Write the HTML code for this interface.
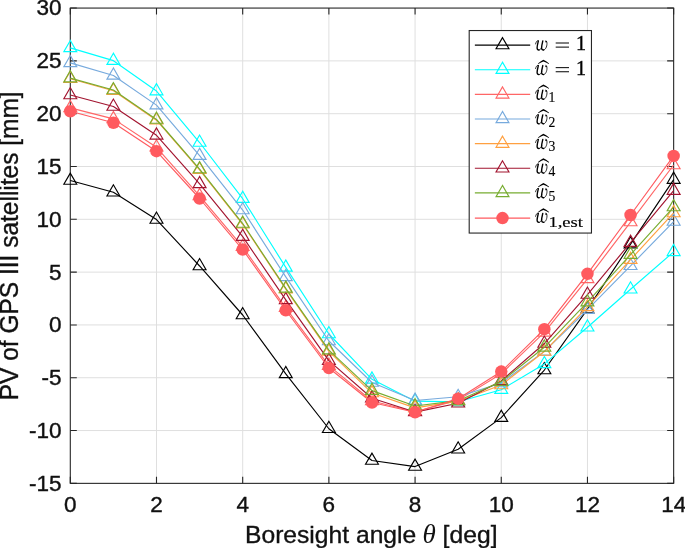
<!DOCTYPE html><html><head><meta charset="utf-8"><title>chart</title><style>html,body{margin:0;padding:0;background:#fff}svg{display:block;will-change:transform}</style></head><body>
<svg width="685" height="548" viewBox="0 0 685 548" font-family="'Liberation Sans', sans-serif">
<rect width="685" height="548" fill="#fff"/>
<path d="M156.49 8.07V483.36M242.69 8.07V483.36M328.88 8.07V483.36M415.07 8.07V483.36M501.26 8.07V483.36M587.46 8.07V483.36M70.3 430.55H673.65M70.3 377.74H673.65M70.3 324.93H673.65M70.3 272.12H673.65M70.3 219.31H673.65M70.3 166.50H673.65M70.3 113.69H673.65M70.3 60.88H673.65" stroke="#dfdfdf" stroke-width="1" fill="none"/>
<path d="M70.30 483.36v-6.5M70.30 8.07v6.5M156.49 483.36v-6.5M156.49 8.07v6.5M242.69 483.36v-6.5M242.69 8.07v6.5M328.88 483.36v-6.5M328.88 8.07v6.5M415.07 483.36v-6.5M415.07 8.07v6.5M501.26 483.36v-6.5M501.26 8.07v6.5M587.46 483.36v-6.5M587.46 8.07v6.5M673.65 483.36v-6.5M673.65 8.07v6.5M70.3 483.36h6.5M673.65 483.36h-6.5M70.3 430.55h6.5M673.65 430.55h-6.5M70.3 377.74h6.5M673.65 377.74h-6.5M70.3 324.93h6.5M673.65 324.93h-6.5M70.3 272.12h6.5M673.65 272.12h-6.5M70.3 219.31h6.5M673.65 219.31h-6.5M70.3 166.50h6.5M673.65 166.50h-6.5M70.3 113.69h6.5M673.65 113.69h-6.5M70.3 60.88h6.5M673.65 60.88h-6.5M70.3 8.07h6.5M673.65 8.07h-6.5" stroke="#262626" stroke-width="1.1" fill="none"/>
<rect x="70.3" y="8.07" width="603.35" height="475.29" fill="none" stroke="#262626" stroke-width="1.1"/>
<polyline points="70.30,180.55 113.40,192.27 156.49,219.52 199.59,265.99 242.69,315.00 285.78,373.94 328.88,428.75 371.98,460.55 415.07,466.57 458.17,449.24 501.26,417.66 544.36,370.03 587.46,309.09 630.55,244.13 673.65,179.60" fill="none" stroke="#000000" stroke-width="1.15" stroke-linejoin="round"/>
<path d="M70.30 173.10L63.85 184.27L76.75 184.27Z" fill="none" stroke="#000000" stroke-width="1.15" stroke-linejoin="miter"/>
<path d="M113.40 184.82L106.95 196.00L119.85 196.00Z" fill="none" stroke="#000000" stroke-width="1.15" stroke-linejoin="miter"/>
<path d="M156.49 212.07L150.04 223.25L162.94 223.25Z" fill="none" stroke="#000000" stroke-width="1.15" stroke-linejoin="miter"/>
<path d="M199.59 258.55L193.14 269.72L206.04 269.72Z" fill="none" stroke="#000000" stroke-width="1.15" stroke-linejoin="miter"/>
<path d="M242.69 307.55L236.24 318.73L249.14 318.73Z" fill="none" stroke="#000000" stroke-width="1.15" stroke-linejoin="miter"/>
<path d="M285.78 366.49L279.33 377.66L292.23 377.66Z" fill="none" stroke="#000000" stroke-width="1.15" stroke-linejoin="miter"/>
<path d="M328.88 421.31L322.43 432.48L335.33 432.48Z" fill="none" stroke="#000000" stroke-width="1.15" stroke-linejoin="miter"/>
<path d="M371.98 453.10L365.53 464.27L378.43 464.27Z" fill="none" stroke="#000000" stroke-width="1.15" stroke-linejoin="miter"/>
<path d="M415.07 459.12L408.62 470.29L421.52 470.29Z" fill="none" stroke="#000000" stroke-width="1.15" stroke-linejoin="miter"/>
<path d="M458.17 441.80L451.72 452.97L464.62 452.97Z" fill="none" stroke="#000000" stroke-width="1.15" stroke-linejoin="miter"/>
<path d="M501.26 410.22L494.81 421.39L507.71 421.39Z" fill="none" stroke="#000000" stroke-width="1.15" stroke-linejoin="miter"/>
<path d="M544.36 362.58L537.91 373.75L550.81 373.75Z" fill="none" stroke="#000000" stroke-width="1.15" stroke-linejoin="miter"/>
<path d="M587.46 301.64L581.01 312.81L593.91 312.81Z" fill="none" stroke="#000000" stroke-width="1.15" stroke-linejoin="miter"/>
<path d="M630.55 236.68L624.10 247.85L637.00 247.85Z" fill="none" stroke="#000000" stroke-width="1.15" stroke-linejoin="miter"/>
<path d="M673.65 172.15L667.20 183.32L680.10 183.32Z" fill="none" stroke="#000000" stroke-width="1.15" stroke-linejoin="miter"/>
<polyline points="70.30,47.89 113.40,60.67 156.49,91.09 199.59,142.52 242.69,198.71 285.78,267.37 328.88,334.01 371.98,379.32 415.07,401.19 458.17,401.82 501.26,389.68 544.36,363.90 587.46,327.25 630.55,289.23 673.65,251.84" fill="none" stroke="#00FFFF" stroke-width="1.15" stroke-linejoin="round"/>
<path d="M70.30 40.44L63.85 51.61L76.75 51.61Z" fill="none" stroke="#00FFFF" stroke-width="1.15" stroke-linejoin="miter"/>
<path d="M113.40 53.22L106.95 64.39L119.85 64.39Z" fill="none" stroke="#00FFFF" stroke-width="1.15" stroke-linejoin="miter"/>
<path d="M156.49 83.64L150.04 94.81L162.94 94.81Z" fill="none" stroke="#00FFFF" stroke-width="1.15" stroke-linejoin="miter"/>
<path d="M199.59 135.08L193.14 146.25L206.04 146.25Z" fill="none" stroke="#00FFFF" stroke-width="1.15" stroke-linejoin="miter"/>
<path d="M242.69 191.27L236.24 202.44L249.14 202.44Z" fill="none" stroke="#00FFFF" stroke-width="1.15" stroke-linejoin="miter"/>
<path d="M285.78 259.92L279.33 271.09L292.23 271.09Z" fill="none" stroke="#00FFFF" stroke-width="1.15" stroke-linejoin="miter"/>
<path d="M328.88 326.57L322.43 337.74L335.33 337.74Z" fill="none" stroke="#00FFFF" stroke-width="1.15" stroke-linejoin="miter"/>
<path d="M371.98 371.88L365.53 383.05L378.43 383.05Z" fill="none" stroke="#00FFFF" stroke-width="1.15" stroke-linejoin="miter"/>
<path d="M415.07 393.74L408.62 404.91L421.52 404.91Z" fill="none" stroke="#00FFFF" stroke-width="1.15" stroke-linejoin="miter"/>
<path d="M458.17 394.37L451.72 405.55L464.62 405.55Z" fill="none" stroke="#00FFFF" stroke-width="1.15" stroke-linejoin="miter"/>
<path d="M501.26 382.23L494.81 393.40L507.71 393.40Z" fill="none" stroke="#00FFFF" stroke-width="1.15" stroke-linejoin="miter"/>
<path d="M544.36 356.46L537.91 367.63L550.81 367.63Z" fill="none" stroke="#00FFFF" stroke-width="1.15" stroke-linejoin="miter"/>
<path d="M587.46 319.81L581.01 330.98L593.91 330.98Z" fill="none" stroke="#00FFFF" stroke-width="1.15" stroke-linejoin="miter"/>
<path d="M630.55 281.78L624.10 292.95L637.00 292.95Z" fill="none" stroke="#00FFFF" stroke-width="1.15" stroke-linejoin="miter"/>
<path d="M673.65 244.39L667.20 255.56L680.10 255.56Z" fill="none" stroke="#00FFFF" stroke-width="1.15" stroke-linejoin="miter"/>
<polyline points="70.30,107.88 113.40,118.87 156.49,147.28 199.59,195.86 242.69,246.77 285.78,307.82 328.88,365.59 371.98,400.98 415.07,411.75 458.17,400.13 501.26,373.73 544.36,332.43 587.46,278.88 630.55,222.06 673.65,165.02" fill="none" stroke="#FF6666" stroke-width="1.15" stroke-linejoin="round"/>
<path d="M70.30 100.43L63.85 111.60L76.75 111.60Z" fill="none" stroke="#FF6666" stroke-width="1.15" stroke-linejoin="miter"/>
<path d="M113.40 111.42L106.95 122.59L119.85 122.59Z" fill="none" stroke="#FF6666" stroke-width="1.15" stroke-linejoin="miter"/>
<path d="M156.49 139.83L150.04 151.00L162.94 151.00Z" fill="none" stroke="#FF6666" stroke-width="1.15" stroke-linejoin="miter"/>
<path d="M199.59 188.41L193.14 199.59L206.04 199.59Z" fill="none" stroke="#FF6666" stroke-width="1.15" stroke-linejoin="miter"/>
<path d="M242.69 239.32L236.24 250.50L249.14 250.50Z" fill="none" stroke="#FF6666" stroke-width="1.15" stroke-linejoin="miter"/>
<path d="M285.78 300.37L279.33 311.54L292.23 311.54Z" fill="none" stroke="#FF6666" stroke-width="1.15" stroke-linejoin="miter"/>
<path d="M328.88 358.15L322.43 369.32L335.33 369.32Z" fill="none" stroke="#FF6666" stroke-width="1.15" stroke-linejoin="miter"/>
<path d="M371.98 393.53L365.53 404.70L378.43 404.70Z" fill="none" stroke="#FF6666" stroke-width="1.15" stroke-linejoin="miter"/>
<path d="M415.07 404.30L408.62 415.47L421.52 415.47Z" fill="none" stroke="#FF6666" stroke-width="1.15" stroke-linejoin="miter"/>
<path d="M458.17 392.68L451.72 403.86L464.62 403.86Z" fill="none" stroke="#FF6666" stroke-width="1.15" stroke-linejoin="miter"/>
<path d="M501.26 366.28L494.81 377.45L507.71 377.45Z" fill="none" stroke="#FF6666" stroke-width="1.15" stroke-linejoin="miter"/>
<path d="M544.36 324.98L537.91 336.15L550.81 336.15Z" fill="none" stroke="#FF6666" stroke-width="1.15" stroke-linejoin="miter"/>
<path d="M587.46 271.43L581.01 282.60L593.91 282.60Z" fill="none" stroke="#FF6666" stroke-width="1.15" stroke-linejoin="miter"/>
<path d="M630.55 214.61L624.10 225.78L637.00 225.78Z" fill="none" stroke="#FF6666" stroke-width="1.15" stroke-linejoin="miter"/>
<path d="M673.65 157.57L667.20 168.75L680.10 168.75Z" fill="none" stroke="#FF6666" stroke-width="1.15" stroke-linejoin="miter"/>
<polyline points="70.30,62.89 113.40,75.46 156.49,105.13 199.59,155.62 242.69,210.02 285.78,276.87 328.88,340.98 371.98,382.49 415.07,400.55 458.17,396.75 501.26,383.02 544.36,351.34 587.46,309.72 630.55,265.78 673.65,221.53" fill="none" stroke="#77AADD" stroke-width="1.15" stroke-linejoin="round"/>
<path d="M70.30 55.44L63.85 66.61L76.75 66.61Z" fill="none" stroke="#77AADD" stroke-width="1.15" stroke-linejoin="miter"/>
<path d="M113.40 68.01L106.95 79.18L119.85 79.18Z" fill="none" stroke="#77AADD" stroke-width="1.15" stroke-linejoin="miter"/>
<path d="M156.49 97.69L150.04 108.86L162.94 108.86Z" fill="none" stroke="#77AADD" stroke-width="1.15" stroke-linejoin="miter"/>
<path d="M199.59 148.17L193.14 159.35L206.04 159.35Z" fill="none" stroke="#77AADD" stroke-width="1.15" stroke-linejoin="miter"/>
<path d="M242.69 202.57L236.24 213.74L249.14 213.74Z" fill="none" stroke="#77AADD" stroke-width="1.15" stroke-linejoin="miter"/>
<path d="M285.78 269.43L279.33 280.60L292.23 280.60Z" fill="none" stroke="#77AADD" stroke-width="1.15" stroke-linejoin="miter"/>
<path d="M328.88 333.54L322.43 344.71L335.33 344.71Z" fill="none" stroke="#77AADD" stroke-width="1.15" stroke-linejoin="miter"/>
<path d="M371.98 375.05L365.53 386.22L378.43 386.22Z" fill="none" stroke="#77AADD" stroke-width="1.15" stroke-linejoin="miter"/>
<path d="M415.07 393.11L408.62 404.28L421.52 404.28Z" fill="none" stroke="#77AADD" stroke-width="1.15" stroke-linejoin="miter"/>
<path d="M458.17 389.30L451.72 400.48L464.62 400.48Z" fill="none" stroke="#77AADD" stroke-width="1.15" stroke-linejoin="miter"/>
<path d="M501.26 375.57L494.81 386.74L507.71 386.74Z" fill="none" stroke="#77AADD" stroke-width="1.15" stroke-linejoin="miter"/>
<path d="M544.36 343.89L537.91 355.06L550.81 355.06Z" fill="none" stroke="#77AADD" stroke-width="1.15" stroke-linejoin="miter"/>
<path d="M587.46 302.27L581.01 313.44L593.91 313.44Z" fill="none" stroke="#77AADD" stroke-width="1.15" stroke-linejoin="miter"/>
<path d="M630.55 258.33L624.10 269.51L637.00 269.51Z" fill="none" stroke="#77AADD" stroke-width="1.15" stroke-linejoin="miter"/>
<path d="M673.65 214.08L667.20 225.25L680.10 225.25Z" fill="none" stroke="#77AADD" stroke-width="1.15" stroke-linejoin="miter"/>
<polyline points="70.30,78.73 113.40,90.77 156.49,120.24 199.59,169.77 242.69,224.27 285.78,289.12 328.88,351.34 371.98,393.05 415.07,407.84 458.17,401.19 501.26,385.03 544.36,351.55 587.46,306.87 630.55,259.66 673.65,212.97" fill="none" stroke="#FFA040" stroke-width="1.15" stroke-linejoin="round"/>
<path d="M70.30 71.28L63.85 82.45L76.75 82.45Z" fill="none" stroke="#FFA040" stroke-width="1.15" stroke-linejoin="miter"/>
<path d="M113.40 83.32L106.95 94.49L119.85 94.49Z" fill="none" stroke="#FFA040" stroke-width="1.15" stroke-linejoin="miter"/>
<path d="M156.49 112.79L150.04 123.96L162.94 123.96Z" fill="none" stroke="#FFA040" stroke-width="1.15" stroke-linejoin="miter"/>
<path d="M199.59 162.33L193.14 173.50L206.04 173.50Z" fill="none" stroke="#FFA040" stroke-width="1.15" stroke-linejoin="miter"/>
<path d="M242.69 216.83L236.24 228.00L249.14 228.00Z" fill="none" stroke="#FFA040" stroke-width="1.15" stroke-linejoin="miter"/>
<path d="M285.78 281.68L279.33 292.85L292.23 292.85Z" fill="none" stroke="#FFA040" stroke-width="1.15" stroke-linejoin="miter"/>
<path d="M328.88 343.89L322.43 355.06L335.33 355.06Z" fill="none" stroke="#FFA040" stroke-width="1.15" stroke-linejoin="miter"/>
<path d="M371.98 385.61L365.53 396.78L378.43 396.78Z" fill="none" stroke="#FFA040" stroke-width="1.15" stroke-linejoin="miter"/>
<path d="M415.07 400.39L408.62 411.57L421.52 411.57Z" fill="none" stroke="#FFA040" stroke-width="1.15" stroke-linejoin="miter"/>
<path d="M458.17 393.74L451.72 404.91L464.62 404.91Z" fill="none" stroke="#FFA040" stroke-width="1.15" stroke-linejoin="miter"/>
<path d="M501.26 377.58L494.81 388.75L507.71 388.75Z" fill="none" stroke="#FFA040" stroke-width="1.15" stroke-linejoin="miter"/>
<path d="M544.36 344.10L537.91 355.27L550.81 355.27Z" fill="none" stroke="#FFA040" stroke-width="1.15" stroke-linejoin="miter"/>
<path d="M587.46 299.42L581.01 310.59L593.91 310.59Z" fill="none" stroke="#FFA040" stroke-width="1.15" stroke-linejoin="miter"/>
<path d="M630.55 252.21L624.10 263.38L637.00 263.38Z" fill="none" stroke="#FFA040" stroke-width="1.15" stroke-linejoin="miter"/>
<path d="M673.65 205.52L667.20 216.70L680.10 216.70Z" fill="none" stroke="#FFA040" stroke-width="1.15" stroke-linejoin="miter"/>
<polyline points="70.30,95.00 113.40,106.51 156.49,135.34 199.59,183.93 242.69,236.63 285.78,299.90 328.88,360.63 371.98,398.23 415.07,412.07 458.17,403.30 501.26,380.91 544.36,343.52 587.46,294.51 630.55,242.65 673.65,190.58" fill="none" stroke="#A2142F" stroke-width="1.15" stroke-linejoin="round"/>
<path d="M70.30 87.55L63.85 98.72L76.75 98.72Z" fill="none" stroke="#A2142F" stroke-width="1.15" stroke-linejoin="miter"/>
<path d="M113.40 99.06L106.95 110.23L119.85 110.23Z" fill="none" stroke="#A2142F" stroke-width="1.15" stroke-linejoin="miter"/>
<path d="M156.49 127.89L150.04 139.07L162.94 139.07Z" fill="none" stroke="#A2142F" stroke-width="1.15" stroke-linejoin="miter"/>
<path d="M199.59 176.48L193.14 187.65L206.04 187.65Z" fill="none" stroke="#A2142F" stroke-width="1.15" stroke-linejoin="miter"/>
<path d="M242.69 229.18L236.24 240.36L249.14 240.36Z" fill="none" stroke="#A2142F" stroke-width="1.15" stroke-linejoin="miter"/>
<path d="M285.78 292.45L279.33 303.62L292.23 303.62Z" fill="none" stroke="#A2142F" stroke-width="1.15" stroke-linejoin="miter"/>
<path d="M328.88 353.18L322.43 364.35L335.33 364.35Z" fill="none" stroke="#A2142F" stroke-width="1.15" stroke-linejoin="miter"/>
<path d="M371.98 390.78L365.53 401.95L378.43 401.95Z" fill="none" stroke="#A2142F" stroke-width="1.15" stroke-linejoin="miter"/>
<path d="M415.07 404.62L408.62 415.79L421.52 415.79Z" fill="none" stroke="#A2142F" stroke-width="1.15" stroke-linejoin="miter"/>
<path d="M458.17 395.85L451.72 407.02L464.62 407.02Z" fill="none" stroke="#A2142F" stroke-width="1.15" stroke-linejoin="miter"/>
<path d="M501.26 373.46L494.81 384.63L507.71 384.63Z" fill="none" stroke="#A2142F" stroke-width="1.15" stroke-linejoin="miter"/>
<path d="M544.36 336.07L537.91 347.24L550.81 347.24Z" fill="none" stroke="#A2142F" stroke-width="1.15" stroke-linejoin="miter"/>
<path d="M587.46 287.06L581.01 298.24L593.91 298.24Z" fill="none" stroke="#A2142F" stroke-width="1.15" stroke-linejoin="miter"/>
<path d="M630.55 235.20L624.10 246.38L637.00 246.38Z" fill="none" stroke="#A2142F" stroke-width="1.15" stroke-linejoin="miter"/>
<path d="M673.65 183.13L667.20 194.31L680.10 194.31Z" fill="none" stroke="#A2142F" stroke-width="1.15" stroke-linejoin="miter"/>
<polyline points="70.30,78.10 113.40,90.03 156.49,119.50 199.59,169.03 242.69,223.53 285.78,288.39 328.88,350.17 371.98,390.63 415.07,406.05 458.17,400.66 501.26,381.65 544.36,347.32 587.46,302.12 630.55,254.59 673.65,207.06" fill="none" stroke="#77AC30" stroke-width="1.15" stroke-linejoin="round"/>
<path d="M70.30 70.65L63.85 81.82L76.75 81.82Z" fill="none" stroke="#77AC30" stroke-width="1.15" stroke-linejoin="miter"/>
<path d="M113.40 82.58L106.95 93.76L119.85 93.76Z" fill="none" stroke="#77AC30" stroke-width="1.15" stroke-linejoin="miter"/>
<path d="M156.49 112.05L150.04 123.22L162.94 123.22Z" fill="none" stroke="#77AC30" stroke-width="1.15" stroke-linejoin="miter"/>
<path d="M199.59 161.59L193.14 172.76L206.04 172.76Z" fill="none" stroke="#77AC30" stroke-width="1.15" stroke-linejoin="miter"/>
<path d="M242.69 216.09L236.24 227.26L249.14 227.26Z" fill="none" stroke="#77AC30" stroke-width="1.15" stroke-linejoin="miter"/>
<path d="M285.78 280.94L279.33 292.11L292.23 292.11Z" fill="none" stroke="#77AC30" stroke-width="1.15" stroke-linejoin="miter"/>
<path d="M328.88 342.73L322.43 353.90L335.33 353.90Z" fill="none" stroke="#77AC30" stroke-width="1.15" stroke-linejoin="miter"/>
<path d="M371.98 383.18L365.53 394.35L378.43 394.35Z" fill="none" stroke="#77AC30" stroke-width="1.15" stroke-linejoin="miter"/>
<path d="M415.07 398.60L408.62 409.77L421.52 409.77Z" fill="none" stroke="#77AC30" stroke-width="1.15" stroke-linejoin="miter"/>
<path d="M458.17 393.21L451.72 404.38L464.62 404.38Z" fill="none" stroke="#77AC30" stroke-width="1.15" stroke-linejoin="miter"/>
<path d="M501.26 374.20L494.81 385.37L507.71 385.37Z" fill="none" stroke="#77AC30" stroke-width="1.15" stroke-linejoin="miter"/>
<path d="M544.36 339.87L537.91 351.05L550.81 351.05Z" fill="none" stroke="#77AC30" stroke-width="1.15" stroke-linejoin="miter"/>
<path d="M587.46 294.67L581.01 305.84L593.91 305.84Z" fill="none" stroke="#77AC30" stroke-width="1.15" stroke-linejoin="miter"/>
<path d="M630.55 247.14L624.10 258.31L637.00 258.31Z" fill="none" stroke="#77AC30" stroke-width="1.15" stroke-linejoin="miter"/>
<path d="M673.65 199.61L667.20 210.78L680.10 210.78Z" fill="none" stroke="#77AC30" stroke-width="1.15" stroke-linejoin="miter"/>
<polyline points="70.30,111.26 113.40,122.77 156.49,151.19 199.59,198.50 242.69,249.52 285.78,310.25 328.88,368.02 371.98,402.56 415.07,412.28 458.17,398.65 501.26,371.61 544.36,329.15 587.46,273.81 630.55,214.98 673.65,155.94" fill="none" stroke="#FF5A5F" stroke-width="1.15" stroke-linejoin="round"/>
<circle cx="70.30" cy="111.26" r="6.25" fill="#FF5A5F"/>
<circle cx="113.40" cy="122.77" r="6.25" fill="#FF5A5F"/>
<circle cx="156.49" cy="151.19" r="6.25" fill="#FF5A5F"/>
<circle cx="199.59" cy="198.50" r="6.25" fill="#FF5A5F"/>
<circle cx="242.69" cy="249.52" r="6.25" fill="#FF5A5F"/>
<circle cx="285.78" cy="310.25" r="6.25" fill="#FF5A5F"/>
<circle cx="328.88" cy="368.02" r="6.25" fill="#FF5A5F"/>
<circle cx="371.98" cy="402.56" r="6.25" fill="#FF5A5F"/>
<circle cx="415.07" cy="412.28" r="6.25" fill="#FF5A5F"/>
<circle cx="458.17" cy="398.65" r="6.25" fill="#FF5A5F"/>
<circle cx="501.26" cy="371.61" r="6.25" fill="#FF5A5F"/>
<circle cx="544.36" cy="329.15" r="6.25" fill="#FF5A5F"/>
<circle cx="587.46" cy="273.81" r="6.25" fill="#FF5A5F"/>
<circle cx="630.55" cy="214.98" r="6.25" fill="#FF5A5F"/>
<circle cx="673.65" cy="155.94" r="6.25" fill="#FF5A5F"/>
<text x="70.30" y="512.2" font-size="22.5" text-anchor="middle" fill="#111" stroke="#111" stroke-width="0.4">0</text>
<text x="156.49" y="512.2" font-size="22.5" text-anchor="middle" fill="#111" stroke="#111" stroke-width="0.4">2</text>
<text x="242.69" y="512.2" font-size="22.5" text-anchor="middle" fill="#111" stroke="#111" stroke-width="0.4">4</text>
<text x="328.88" y="512.2" font-size="22.5" text-anchor="middle" fill="#111" stroke="#111" stroke-width="0.4">6</text>
<text x="415.07" y="512.2" font-size="22.5" text-anchor="middle" fill="#111" stroke="#111" stroke-width="0.4">8</text>
<text x="501.26" y="512.2" font-size="22.5" text-anchor="middle" fill="#111" stroke="#111" stroke-width="0.4">10</text>
<text x="587.46" y="512.2" font-size="22.5" text-anchor="middle" fill="#111" stroke="#111" stroke-width="0.4">12</text>
<text x="673.65" y="512.2" font-size="22.5" text-anchor="middle" fill="#111" stroke="#111" stroke-width="0.4">14</text>
<text x="61.6" y="490.76" font-size="22.5" text-anchor="end" fill="#111" stroke="#111" stroke-width="0.4">-15</text>
<text x="61.6" y="437.95" font-size="22.5" text-anchor="end" fill="#111" stroke="#111" stroke-width="0.4">-10</text>
<text x="61.6" y="385.14" font-size="22.5" text-anchor="end" fill="#111" stroke="#111" stroke-width="0.4">-5</text>
<text x="61.6" y="332.33" font-size="22.5" text-anchor="end" fill="#111" stroke="#111" stroke-width="0.4">0</text>
<text x="61.6" y="279.52" font-size="22.5" text-anchor="end" fill="#111" stroke="#111" stroke-width="0.4">5</text>
<text x="61.6" y="226.71" font-size="22.5" text-anchor="end" fill="#111" stroke="#111" stroke-width="0.4">10</text>
<text x="61.6" y="173.90" font-size="22.5" text-anchor="end" fill="#111" stroke="#111" stroke-width="0.4">15</text>
<text x="61.6" y="121.09" font-size="22.5" text-anchor="end" fill="#111" stroke="#111" stroke-width="0.4">20</text>
<text x="61.6" y="68.28" font-size="22.5" text-anchor="end" fill="#111" stroke="#111" stroke-width="0.4">25</text>
<text x="61.6" y="15.47" font-size="22.5" text-anchor="end" fill="#111" stroke="#111" stroke-width="0.4">30</text>
<text x="245.0" y="542.7" font-size="24.65" fill="#111" stroke="#111" stroke-width="0.35">Boresight angle</text>
<text x="422.6" y="542.7" font-size="27" fill="#111" font-family="'Liberation Serif', serif" font-style="italic">θ</text>
<text x="442.6" y="542.7" font-size="24.7" fill="#111" stroke="#111" stroke-width="0.35">[deg]</text>
<text transform="translate(17.5,245.8) rotate(-90) scale(1,1.03)" font-size="24.5" stroke="#111" stroke-width="0.35" text-anchor="middle" fill="#111">PV of GPS III satellites [mm]</text>
<rect x="469.2" y="30.54" width="122.26" height="202.52" fill="#fff" stroke="#262626" stroke-width="1.1"/>
<path d="M474.86 45.06H530.2" stroke="#000000" stroke-width="1.15" fill="none"/>
<path d="M502.50 37.61L496.05 48.78L508.95 48.78Z" fill="none" stroke="#000000" stroke-width="1.15" stroke-linejoin="miter"/>
<g transform="translate(535.3,49.96) scale(0.95,0.97)" fill="none" stroke="#000" stroke-linecap="round"><path d="M3.2 -9.3C2.7 -7.2 1.9 -4.2 1.9 -2.4C1.9 -0.8 2.7 0 3.9 0M7.9 -9.3C7.4 -7.2 6.6 -4.2 6.6 -2.4C6.6 -0.8 7.5 0 8.8 0" stroke-width="1.45"/><path d="M3.9 0C5.2 0 6.3 -1.3 6.8 -2.9M8.8 0C10.6 0 12.3 -3.2 12.3 -6.6C12.3 -8.2 11.9 -9.1 11.3 -9.4M0.3 -6.2C0.8 -8.2 1.7 -9.5 2.6 -9.5C3 -9.5 3.2 -9.4 3.2 -9.3" stroke-width="0.85"/><circle cx="11.35" cy="-8.6" r="0.9" fill="#000" stroke="none"/></g>
<path d="M555.7 43.01H569M555.7 47.11H569" stroke="#000" stroke-width="1" fill="none"/>
<text x="575.9" y="49.96" font-size="20" font-family="'Liberation Serif', serif" fill="#000" stroke="#000" stroke-width="0.4">1</text>
<path d="M474.86 69.7H530.2" stroke="#00FFFF" stroke-width="1.15" fill="none"/>
<path d="M502.50 62.25L496.05 73.42L508.95 73.42Z" fill="none" stroke="#00FFFF" stroke-width="1.15" stroke-linejoin="miter"/>
<g transform="translate(535.3,74.60) scale(0.95,0.97)" fill="none" stroke="#000" stroke-linecap="round"><path d="M3.2 -9.3C2.7 -7.2 1.9 -4.2 1.9 -2.4C1.9 -0.8 2.7 0 3.9 0M7.9 -9.3C7.4 -7.2 6.6 -4.2 6.6 -2.4C6.6 -0.8 7.5 0 8.8 0" stroke-width="1.45"/><path d="M3.9 0C5.2 0 6.3 -1.3 6.8 -2.9M8.8 0C10.6 0 12.3 -3.2 12.3 -6.6C12.3 -8.2 11.9 -9.1 11.3 -9.4M0.3 -6.2C0.8 -8.2 1.7 -9.5 2.6 -9.5C3 -9.5 3.2 -9.4 3.2 -9.3" stroke-width="0.85"/><circle cx="11.35" cy="-8.6" r="0.9" fill="#000" stroke="none"/></g>
<path d="M538.0 63.50Q541.0 61.00 543.4 59.80Q546.1 61.00 549.1 63.50L548.75 64.10Q545.9 62.30 543.4 61.50Q541.2 62.30 538.35 64.10Z" fill="#000"/>
<path d="M555.7 67.65H569M555.7 71.75H569" stroke="#000" stroke-width="1" fill="none"/>
<text x="575.9" y="74.60" font-size="20" font-family="'Liberation Serif', serif" fill="#000" stroke="#000" stroke-width="0.4">1</text>
<path d="M474.86 94.33H530.2" stroke="#FF6666" stroke-width="1.15" fill="none"/>
<path d="M502.50 86.88L496.05 98.05L508.95 98.05Z" fill="none" stroke="#FF6666" stroke-width="1.15" stroke-linejoin="miter"/>
<g transform="translate(535.3,99.23) scale(0.95,0.97)" fill="none" stroke="#000" stroke-linecap="round"><path d="M3.2 -9.3C2.7 -7.2 1.9 -4.2 1.9 -2.4C1.9 -0.8 2.7 0 3.9 0M7.9 -9.3C7.4 -7.2 6.6 -4.2 6.6 -2.4C6.6 -0.8 7.5 0 8.8 0" stroke-width="1.45"/><path d="M3.9 0C5.2 0 6.3 -1.3 6.8 -2.9M8.8 0C10.6 0 12.3 -3.2 12.3 -6.6C12.3 -8.2 11.9 -9.1 11.3 -9.4M0.3 -6.2C0.8 -8.2 1.7 -9.5 2.6 -9.5C3 -9.5 3.2 -9.4 3.2 -9.3" stroke-width="0.85"/><circle cx="11.35" cy="-8.6" r="0.9" fill="#000" stroke="none"/></g>
<path d="M538.0 88.13Q541.0 85.63 543.4 84.43Q546.1 85.63 549.1 88.13L548.75 88.73Q545.9 86.93 543.4 86.13Q541.2 86.93 538.35 88.73Z" fill="#000"/>
<text x="548.4" y="102.13" font-size="13.6" font-family="'Liberation Serif', serif" fill="#000" stroke="#000" stroke-width="0.15">1</text>
<path d="M474.86 118.97H530.2" stroke="#77AADD" stroke-width="1.15" fill="none"/>
<path d="M502.50 111.52L496.05 122.69L508.95 122.69Z" fill="none" stroke="#77AADD" stroke-width="1.15" stroke-linejoin="miter"/>
<g transform="translate(535.3,123.87) scale(0.95,0.97)" fill="none" stroke="#000" stroke-linecap="round"><path d="M3.2 -9.3C2.7 -7.2 1.9 -4.2 1.9 -2.4C1.9 -0.8 2.7 0 3.9 0M7.9 -9.3C7.4 -7.2 6.6 -4.2 6.6 -2.4C6.6 -0.8 7.5 0 8.8 0" stroke-width="1.45"/><path d="M3.9 0C5.2 0 6.3 -1.3 6.8 -2.9M8.8 0C10.6 0 12.3 -3.2 12.3 -6.6C12.3 -8.2 11.9 -9.1 11.3 -9.4M0.3 -6.2C0.8 -8.2 1.7 -9.5 2.6 -9.5C3 -9.5 3.2 -9.4 3.2 -9.3" stroke-width="0.85"/><circle cx="11.35" cy="-8.6" r="0.9" fill="#000" stroke="none"/></g>
<path d="M538.0 112.77Q541.0 110.27 543.4 109.07Q546.1 110.27 549.1 112.77L548.75 113.37Q545.9 111.57 543.4 110.77Q541.2 111.57 538.35 113.37Z" fill="#000"/>
<text x="548.4" y="126.77" font-size="13.6" font-family="'Liberation Serif', serif" fill="#000" stroke="#000" stroke-width="0.15">2</text>
<path d="M474.86 143.61H530.2" stroke="#FFA040" stroke-width="1.15" fill="none"/>
<path d="M502.50 136.16L496.05 147.33L508.95 147.33Z" fill="none" stroke="#FFA040" stroke-width="1.15" stroke-linejoin="miter"/>
<g transform="translate(535.3,148.51) scale(0.95,0.97)" fill="none" stroke="#000" stroke-linecap="round"><path d="M3.2 -9.3C2.7 -7.2 1.9 -4.2 1.9 -2.4C1.9 -0.8 2.7 0 3.9 0M7.9 -9.3C7.4 -7.2 6.6 -4.2 6.6 -2.4C6.6 -0.8 7.5 0 8.8 0" stroke-width="1.45"/><path d="M3.9 0C5.2 0 6.3 -1.3 6.8 -2.9M8.8 0C10.6 0 12.3 -3.2 12.3 -6.6C12.3 -8.2 11.9 -9.1 11.3 -9.4M0.3 -6.2C0.8 -8.2 1.7 -9.5 2.6 -9.5C3 -9.5 3.2 -9.4 3.2 -9.3" stroke-width="0.85"/><circle cx="11.35" cy="-8.6" r="0.9" fill="#000" stroke="none"/></g>
<path d="M538.0 137.41Q541.0 134.91 543.4 133.71Q546.1 134.91 549.1 137.41L548.75 138.01Q545.9 136.21 543.4 135.41Q541.2 136.21 538.35 138.01Z" fill="#000"/>
<text x="548.4" y="151.41" font-size="13.6" font-family="'Liberation Serif', serif" fill="#000" stroke="#000" stroke-width="0.15">3</text>
<path d="M474.86 168.24H530.2" stroke="#A2142F" stroke-width="1.15" fill="none"/>
<path d="M502.50 160.79L496.05 171.96L508.95 171.96Z" fill="none" stroke="#A2142F" stroke-width="1.15" stroke-linejoin="miter"/>
<g transform="translate(535.3,173.14) scale(0.95,0.97)" fill="none" stroke="#000" stroke-linecap="round"><path d="M3.2 -9.3C2.7 -7.2 1.9 -4.2 1.9 -2.4C1.9 -0.8 2.7 0 3.9 0M7.9 -9.3C7.4 -7.2 6.6 -4.2 6.6 -2.4C6.6 -0.8 7.5 0 8.8 0" stroke-width="1.45"/><path d="M3.9 0C5.2 0 6.3 -1.3 6.8 -2.9M8.8 0C10.6 0 12.3 -3.2 12.3 -6.6C12.3 -8.2 11.9 -9.1 11.3 -9.4M0.3 -6.2C0.8 -8.2 1.7 -9.5 2.6 -9.5C3 -9.5 3.2 -9.4 3.2 -9.3" stroke-width="0.85"/><circle cx="11.35" cy="-8.6" r="0.9" fill="#000" stroke="none"/></g>
<path d="M538.0 162.04Q541.0 159.54 543.4 158.34Q546.1 159.54 549.1 162.04L548.75 162.64Q545.9 160.84 543.4 160.04Q541.2 160.84 538.35 162.64Z" fill="#000"/>
<text x="548.4" y="176.04" font-size="13.6" font-family="'Liberation Serif', serif" fill="#000" stroke="#000" stroke-width="0.15">4</text>
<path d="M474.86 192.88H530.2" stroke="#77AC30" stroke-width="1.15" fill="none"/>
<path d="M502.50 185.43L496.05 196.60L508.95 196.60Z" fill="none" stroke="#77AC30" stroke-width="1.15" stroke-linejoin="miter"/>
<g transform="translate(535.3,197.78) scale(0.95,0.97)" fill="none" stroke="#000" stroke-linecap="round"><path d="M3.2 -9.3C2.7 -7.2 1.9 -4.2 1.9 -2.4C1.9 -0.8 2.7 0 3.9 0M7.9 -9.3C7.4 -7.2 6.6 -4.2 6.6 -2.4C6.6 -0.8 7.5 0 8.8 0" stroke-width="1.45"/><path d="M3.9 0C5.2 0 6.3 -1.3 6.8 -2.9M8.8 0C10.6 0 12.3 -3.2 12.3 -6.6C12.3 -8.2 11.9 -9.1 11.3 -9.4M0.3 -6.2C0.8 -8.2 1.7 -9.5 2.6 -9.5C3 -9.5 3.2 -9.4 3.2 -9.3" stroke-width="0.85"/><circle cx="11.35" cy="-8.6" r="0.9" fill="#000" stroke="none"/></g>
<path d="M538.0 186.68Q541.0 184.18 543.4 182.98Q546.1 184.18 549.1 186.68L548.75 187.28Q545.9 185.48 543.4 184.68Q541.2 185.48 538.35 187.28Z" fill="#000"/>
<text x="548.4" y="200.68" font-size="13.6" font-family="'Liberation Serif', serif" fill="#000" stroke="#000" stroke-width="0.15">5</text>
<path d="M474.86 218.08H530.2" stroke="#FF5A5F" stroke-width="1.15" fill="none"/>
<circle cx="502.50" cy="218.08" r="6.25" fill="#FF5A5F"/>
<g transform="translate(535.3,222.38) scale(0.95,0.97)" fill="none" stroke="#000" stroke-linecap="round"><path d="M3.2 -9.3C2.7 -7.2 1.9 -4.2 1.9 -2.4C1.9 -0.8 2.7 0 3.9 0M7.9 -9.3C7.4 -7.2 6.6 -4.2 6.6 -2.4C6.6 -0.8 7.5 0 8.8 0" stroke-width="1.45"/><path d="M3.9 0C5.2 0 6.3 -1.3 6.8 -2.9M8.8 0C10.6 0 12.3 -3.2 12.3 -6.6C12.3 -8.2 11.9 -9.1 11.3 -9.4M0.3 -6.2C0.8 -8.2 1.7 -9.5 2.6 -9.5C3 -9.5 3.2 -9.4 3.2 -9.3" stroke-width="0.85"/><circle cx="11.35" cy="-8.6" r="0.9" fill="#000" stroke="none"/></g>
<path d="M538.0 211.88Q541.0 209.38 543.4 208.18Q546.1 209.38 549.1 211.88L548.75 212.48Q545.9 210.68 543.4 209.88Q541.2 210.68 538.35 212.48Z" fill="#000"/>
<text x="548.4" y="226.88" font-size="13.6" font-family="'Liberation Serif', serif" fill="#000" stroke="#000" stroke-width="0.15" textLength="34.6" lengthAdjust="spacingAndGlyphs">1,est</text>
</svg></body></html>
